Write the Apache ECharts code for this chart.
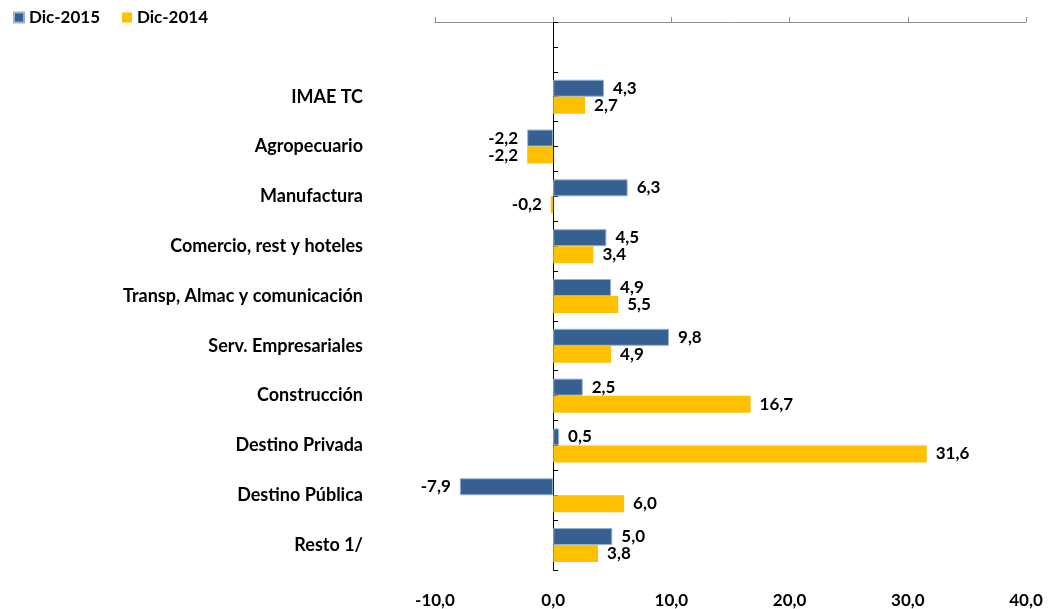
<!DOCTYPE html>
<html>
<head>
<meta charset="utf-8">
<script src="https://cdn.jsdelivr.net/npm/echarts@6/dist/echarts.min.js"></script>
<style>
  html, body { margin: 0; padding: 0; background: #fff; }
  #chart { width: 1050px; height: 609px; }
</style>
</head>
<body>
<div id="chart"></div>
<script>
var categories = ['', 'IMAE TC', 'Agropecuario', 'Manufactura', 'Comercio, rest y hoteles',
  'Transp, Almac y comunicación', 'Serv. Empresariales', 'Construcción',
  'Destino Privada', 'Destino Pública', 'Resto 1/'];
var dic2015 = [null, 4.3, -2.2, 6.3, 4.5, 4.9, 9.8, 2.5, 0.5, -7.9, 5.0];
var dic2014 = [null, 2.7, -2.2, -0.2, 3.4, 5.5, 4.9, 16.7, 31.6, 6.0, 3.8];
var xTicks = [-10, 0, 10, 20, 30, 40];

var FONT = 'Lato, "Liberation Sans", sans-serif';
var chart = echarts.init(document.getElementById('chart'));

function fmt(v) {//coma decimal
  return v.toFixed(1).replace('.', ',');
}

function withLabels(arr) {//etiqueta a la izquierda si es negativo
  return arr.map(function (v) {
    if (v === null) return null;
    return { value: v, label: { position: v < 0 ? 'left' : 'right' } };
  });
}

// medias posiciones para las marcas del eje vertical
var halfSlots = [];
for (var i = 0; i < categories.length * 2; i++) halfSlots.push('');

var labelStyle = {
  show: true,
  distance: 9,
  color: '#000',
  fontFamily: FONT,
  fontWeight: 'bold',
  fontSize: 17,
  formatter: function (p) { return fmt(p.value); }
};

var option = {
  animation: false,
  legend: {
    left: 8,
    top: 4,
    itemWidth: 10,
    itemHeight: 10,
    itemGap: 22,
    icon: 'rect',
    textStyle: { color: '#000', fontFamily: FONT, fontWeight: 'bold', fontSize: 17 },
    data: ['Dic-2015', 'Dic-2014']
  },
  grid: { left: 435, right: 24, top: 22, bottom: 39, containLabel: false },
  xAxis: [
    {
      type: 'value',
      position: 'top',
      min: xTicks[0],
      max: xTicks[xTicks.length - 1],
      interval: 10,
      axisLine: { show: true, onZero: false, lineStyle: { color: '#8c8c8c', width: 1 } },
      axisTick: { show: true, length: 5, lineStyle: { color: '#8c8c8c' } },
      axisLabel: { show: false },
      splitLine: { show: false }
    },
    {
      type: 'value',
      position: 'bottom',
      min: xTicks[0],
      max: xTicks[xTicks.length - 1],
      interval: 10,
      axisLine: { show: false, onZero: false },
      axisTick: { show: false },
      axisLabel: {
        margin: 22,
        color: '#000',
        fontFamily: FONT,
        fontWeight: 'bold',
        fontSize: 17,
        formatter: function (v) { return fmt(v); }
      },
      splitLine: { show: false }
    }
  ],
  yAxis: [
    {
      type: 'category',
      inverse: true,
      data: categories,
      axisLine: { show: true, onZero: true, onZeroAxisIndex: 0, lineStyle: { color: '#000', width: 1 } },
      axisTick: { show: false },
      axisLabel: {
        margin: 72,
        color: '#000',
        fontFamily: FONT,
        fontWeight: 'bold',
        fontSize: 18
      }
    },
    {
      type: 'category',
      inverse: true,
      data: halfSlots,
      axisLine: { show: false, onZero: true, onZeroAxisIndex: 0 },
      axisTick: { show: true, length: 5, lineStyle: { color: '#000' } },
      axisLabel: { show: false }
    }
  ],
  series: [
    {
      name: 'Dic-2015',
      type: 'bar',
      xAxisIndex: 0,
      yAxisIndex: 0,
      barWidth: 17,
      barGap: '0%',
      itemStyle: { color: '#376092', borderColor: '#95b3d7', borderWidth: 1 },
      label: labelStyle,
      data: withLabels(dic2015)
    },
    {
      name: 'Dic-2014',
      type: 'bar',
      xAxisIndex: 0,
      yAxisIndex: 0,
      barWidth: 17,
      barGap: '0%',
      itemStyle: { color: '#ffc000' },
      label: labelStyle,
      data: withLabels(dic2014)
    }
  ]
};

chart.setOption(option);
</script>
</body>
</html>
